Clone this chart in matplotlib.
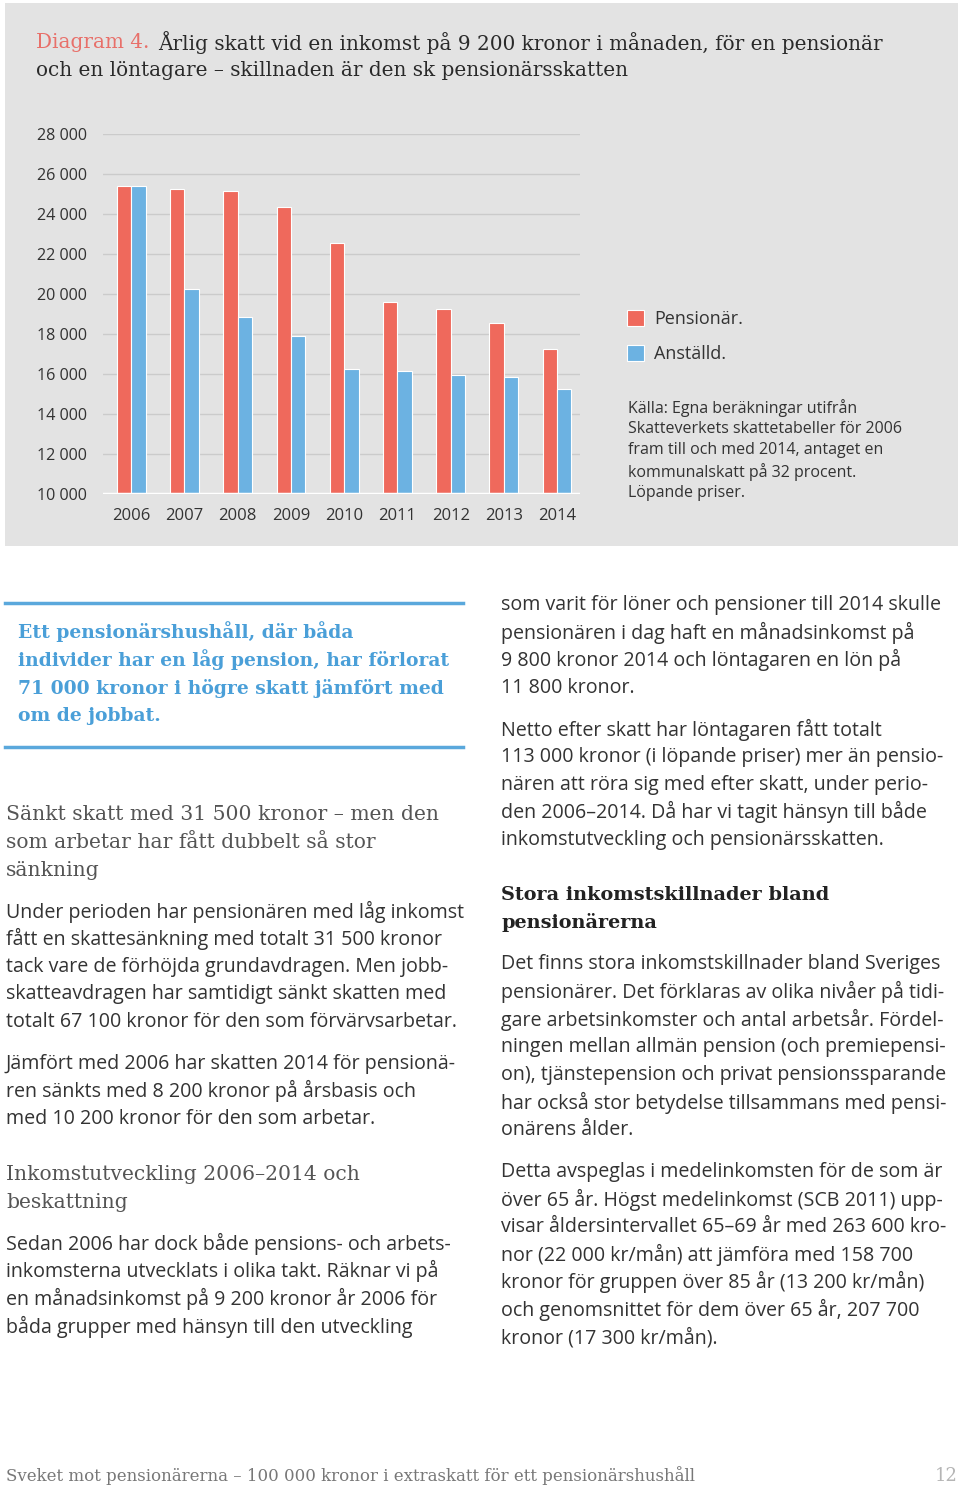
import matplotlib
matplotlib.use("Agg")
import matplotlib.pyplot as plt
from matplotlib.patches import Rectangle
from matplotlib.lines import Line2D

W, H = 960, 1487

years = ["2006", "2007", "2008", "2009", "2010", "2011", "2012", "2013", "2014"]
pensionar = [25400, 25250, 25150, 24350, 22550, 19600, 19250, 18550, 17250]
anstalld = [25400, 20250, 18850, 17900, 16250, 16150, 15950, 15850, 15250]
yticks = list(range(10000, 28001, 2000))

title_tag = "Diagram 4."
title_lines = ["Årlig skatt vid en inkomst på 9 200 kronor i månaden, för en pensionär",
               "och en löntagare – skillnaden är den sk pensionärsskatten"]
legend_labels = ["Pensionär.", "Anställd."]
source_lines = ["Källa: Egna beräkningar utifrån",
                "Skatteverkets skattetabeller för 2006",
                "fram till och med 2014, antaget en",
                "kommunalskatt på 32 procent.",
                "Löpande priser."]

quote_lines = ["Ett pensionärshushåll, där båda",
               "individer har en låg pension, har förlorat",
               "71 000 kronor i högre skatt jämfört med",
               "om de jobbat."]

# left column: (y, text, style)
left_col = [
    (815, "Sänkt skatt med 31 500 kronor – men den", "head"),
    (843, "som arbetar har fått dubbelt så stor", "head"),
    (871, "sänkning", "head"),
    (912, "Under perioden har pensionären med låg inkomst", "body"),
    (939, "fått en skattesänkning med totalt 31 500 kronor", "body"),
    (967, "tack vare de förhöjda grundavdragen. Men jobb-", "body"),
    (994, "skatteavdragen har samtidigt sänkt skatten med", "body"),
    (1022, "totalt 67 100 kronor för den som förvärvsarbetar.", "body"),
    (1064, "Jämfört med 2006 har skatten 2014 för pensionä-", "body"),
    (1091, "ren sänkts med 8 200 kronor på årsbasis och", "body"),
    (1119, "med 10 200 kronor för den som arbetar.", "body"),
    (1174, "Inkomstutveckling 2006–2014 och", "head"),
    (1202, "beskattning", "head"),
    (1244, "Sedan 2006 har dock både pensions- och arbets-", "body"),
    (1271, "inkomsterna utvecklats i olika takt. Räknar vi på", "body"),
    (1299, "en månadsinkomst på 9 200 kronor år 2006 för", "body"),
    (1327, "båda grupper med hänsyn till den utveckling", "body"),
]

right_col = [
    (605, "som varit för löner och pensioner till 2014 skulle", "body"),
    (633, "pensionären i dag haft en månadsinkomst på", "body"),
    (660, "9 800 kronor 2014 och löntagaren en lön på", "body"),
    (688, "11 800 kronor.", "body"),
    (730, "Netto efter skatt har löntagaren fått totalt", "body"),
    (757, "113 000 kronor (i löpande priser) mer än pensio-", "body"),
    (785, "nären att röra sig med efter skatt, under perio-", "body"),
    (812, "den 2006–2014. Då har vi tagit hänsyn till både", "body"),
    (840, "inkomstutveckling och pensionärsskatten.", "body"),
    (895, "Stora inkomstskillnader bland", "bold"),
    (923, "pensionärerna", "bold"),
    (964, "Det finns stora inkomstskillnader bland Sveriges", "body"),
    (992, "pensionärer. Det förklaras av olika nivåer på tidi-", "body"),
    (1020, "gare arbetsinkomster och antal arbetsår. Fördel-", "body"),
    (1047, "ningen mellan allmän pension (och premiepensi-", "body"),
    (1075, "on), tjänstepension och privat pensionssparande", "body"),
    (1103, "har också stor betydelse tillsammans med pensi-", "body"),
    (1130, "onärens ålder.", "body"),
    (1172, "Detta avspeglas i medelinkomsten för de som är", "body"),
    (1200, "över 65 år. Högst medelinkomst (SCB 2011) upp-", "body"),
    (1227, "visar åldersintervallet 65–69 år med 263 600 kro-", "body"),
    (1255, "nor (22 000 kr/mån) att jämföra med 158 700", "body"),
    (1282, "kronor för gruppen över 85 år (13 200 kr/mån)", "body"),
    (1310, "och genomsnittet för dem över 65 år, 207 700", "body"),
    (1338, "kronor (17 300 kr/mån).", "body"),
]

footer = "Sveket mot pensionärerna – 100 000 kronor i extraskatt för ett pensionärshushåll"
page_no = "12"

red = "#ef695c"
blue = "#6cb2e2"
sans = "Open Sans"
slab = "DejaVu Serif"


def fx(x):
    return x / W


def fy(y):
    return 1 - y / H


fig = plt.figure(figsize=(W / 100, H / 100), dpi=100)
fig.patch.set_facecolor("white")

# grey chart panel
fig.patches.append(Rectangle((fx(5), fy(546)), fx(953), 543 / H, transform=fig.transFigure,
                             facecolor="#e3e3e3", edgecolor="none", zorder=-5))

tag = fig.text(fx(36), fy(43), title_tag, color="#e8706a", fontsize=14.4, family=slab, va="center")
renderer = fig.canvas.get_renderer()
tag_end = tag.get_window_extent(renderer).x1
fig.text((tag_end + 9) / W, fy(43), title_lines[0], color="#2a2a2a", fontsize=14.4, family=slab, va="center")
fig.text(fx(36), fy(70), title_lines[1], color="#2a2a2a", fontsize=14.4, family=slab, va="center")

ax = fig.add_axes([fx(103), fy(494), (580 - 103) / W, (494 - 134) / H])
ax.set_facecolor("none")
x = list(range(len(years)))
bw = 0.27
b1 = ax.bar([i - 0.135 for i in x], [v - 10000 for v in pensionar], bw, bottom=10000,
            color=red, edgecolor="white", linewidth=0.8, zorder=3)
b2 = ax.bar([i + 0.135 for i in x], [v - 10000 for v in anstalld], bw, bottom=10000,
            color=blue, edgecolor="white", linewidth=0.8, zorder=3)
ax.set_xlim(-0.53, 8.43)
ax.set_ylim(10000, 28000)
ax.set_yticks(yticks)
ax.set_yticklabels([f"{v:,}".replace(",", " ") for v in yticks], family=sans, fontsize=11.6, color="#333333")
ax.set_xticks(x)
ax.set_xticklabels(years, family=sans, fontsize=12, color="#333333")
ax.tick_params(length=0)
ax.tick_params(axis="y", pad=11.5)
ax.tick_params(axis="x", pad=10)
for v in yticks[1:]:
    ax.axhline(v, color="#cbcbcb", linewidth=1, zorder=1)
ax.axhline(10000, color="white", linewidth=2.5, zorder=4)
for s in ax.spines.values():
    s.set_visible(False)

fig.legend([b1, b2], legend_labels, loc="upper left", bbox_to_anchor=(fx(611), fy(294)),
           frameon=False, prop={"family": sans, "size": 13}, handlelength=0.95, handleheight=0.95,
           labelspacing=0.95, handletextpad=0.55, labelcolor="#333333")

for i, line in enumerate(source_lines):
    fig.text(fx(628), fy(408 + i * 21.2), line, family=sans, fontsize=11.5, color="#333333", va="center")

# pull quote with blue rules
for yy in (603, 747):
    fig.lines.append(Line2D([fx(5), fx(463)], [fy(yy), fy(yy)], transform=fig.transFigure,
                            color="#5aa8dc", linewidth=2.5))
for i, line in enumerate(quote_lines):
    fig.text(fx(18), fy(632 + i * 28), line, family=slab, fontweight="bold", fontsize=13.5,
             color="#4a9fd8", va="center")

styles = {
    "head": dict(family=slab, fontsize=14.6, color="#555555"),
    "body": dict(family=sans, fontsize=14.1, color="#333333"),
    "bold": dict(family=slab, fontweight="bold", fontsize=13.9, color="#222222"),
}
for y, line, st in left_col:
    fig.text(fx(6), fy(y), line, va="center", **styles[st])
for y, line, st in right_col:
    fig.text(fx(501), fy(y), line, va="center", **styles[st])

fig.text(fx(6), fy(1476), footer, family=slab, fontsize=12, color="#777777", va="center")
fig.text(fx(958), fy(1476), page_no, family=slab, fontsize=13, color="#b5b5b5", va="center", ha="right")

fig.savefig("out.png", dpi=100)
